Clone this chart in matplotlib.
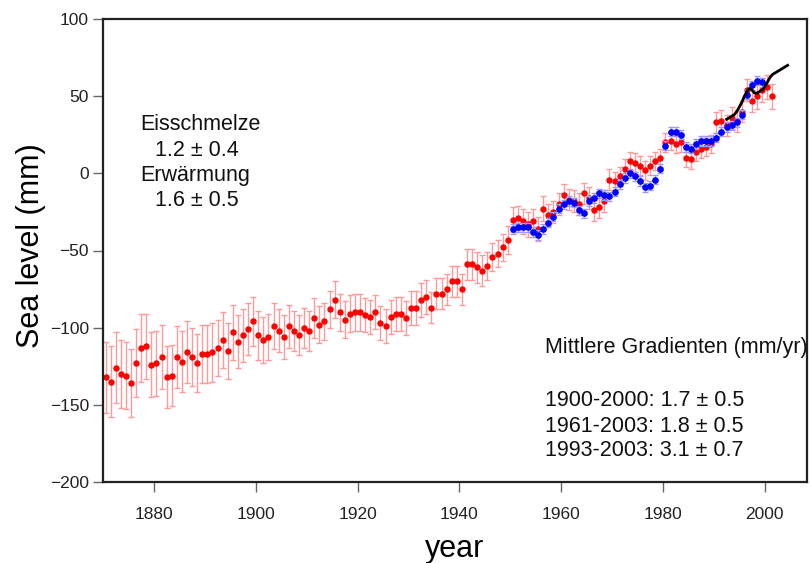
import matplotlib
matplotlib.use("Agg")
import matplotlib.pyplot as plt
import numpy as np

plt.rcParams['font.family'] = ['Liberation Sans', 'DejaVu Sans']

# reconstruction (red), yearly 1870-2001
red_years = np.arange(1870, 2002) + 0.5
red_mm = [-132, -135, -126, -130, -131, -136, -123, -113, -112, -124,
          -123, -119, -132, -131, -119, -122, -116, -119, -123, -117,
          -117, -116, -113, -108, -115, -103, -109, -105, -101, -96,
          -105, -108, -106, -99, -102, -106, -99, -102, -105, -100,
          -102, -94, -98, -96, -88, -82, -90, -95, -91, -90,
          -90, -92, -93, -90, -97, -99, -93, -91, -91, -94,
          -87, -87, -82, -80, -87, -78, -78, -75, -70, -70,
          -75, -59, -59, -61, -63, -60, -54, -52, -48, -43,
          -30, -29, -31, -33, -31, -36, -23, -27, -25, -20,
          -14, -17, -18, -20, -13, -16, -24, -22, -18, -4,
          -5, -2, 3, 8, 7, 5, 2, 5, 8, 10,
          20, 21, 19, 20, 10, 9, 14, 16, 17, 19,
          33, 34, 31, 36, 34, 40, 54, 47, 50, 54,
          56, 50]
red_err = [23, 23, 23, 22, 22, 22, 22, 22, 21, 21,
           21, 21, 20, 20, 20, 20, 20, 19, 19, 19,
           19, 19, 18, 18, 18, 18, 17, 17, 17, 16,
           16, 15, 15, 15, 14, 14, 14, 13, 13, 13,
           13, 13, 12, 12, 12, 12, 12, 12, 12, 12,
           12, 11, 11, 11, 11, 11, 11, 11, 11, 11,
           11, 11, 11, 11, 10, 10, 10, 10, 10, 10,
           10, 10, 10, 10, 10, 9, 9, 9, 9, 9,
           8, 8, 8, 8, 8, 8, 8, 7, 7, 7,
           7, 7, 7, 7, 7, 7, 7, 7, 7, 7,
           6, 6, 6, 6, 6, 6, 6, 6, 6, 6,
           6, 6, 6, 6, 6, 6, 6, 6, 6, 6,
           7, 7, 7, 7, 7, 7, 7, 7, 8, 8,
           8, 8]

# tide gauge (blue), yearly 1950-1999
blue_years = np.arange(1950, 2000) + 0.5
blue_mm = [-36, -35, -35, -35, -38, -40, -36, -32, -28, -23,
           -20, -18, -19, -24, -26, -18, -16, -13, -14, -15,
           -12, -7, -3, 0, -2, -5, -9, -8, -4, 3,
           18, 27, 27, 25, 17, 16, 19, 21, 21, 21,
           23, 27, 30, 31, 33, 38, 51, 57, 60, 59]
blue_err = [3] * len(blue_mm)

# satellite altimetry (black)
sat_years = np.arange(1992.5, 2005, 0.5)
sat_mm = [35, 36, 37, 38, 40, 43, 46, 50, 53, 55, 54, 52, 52,
          53, 54, 56, 59, 62, 64, 65, 66, 67, 68, 69, 70]

W, H = 811, 563
fig = plt.figure(figsize=(W / 100, H / 100), dpi=100)
ax = fig.add_axes([103 / W, 1 - 482 / H, (807 - 103) / W, (482 - 19) / H])

ax.errorbar(red_years, red_mm, yerr=red_err, fmt='o', color='#ff0000',
            ms=3.6, mec='#ff0000', ecolor='#ff9a9a', elinewidth=1.0,
            capsize=2.5, capthick=1.0, zorder=2)
ax.errorbar(blue_years, blue_mm, yerr=blue_err, fmt='o', color='#0000ff',
            ms=3.8, mec='#0000ff', ecolor='#9a9aff', elinewidth=1.0,
            capsize=2.5, capthick=1.0, zorder=3)
ax.plot(sat_years, sat_mm, color='black', lw=2.0, zorder=4)

ax.set_xlim(1870, 2008.3)
ax.set_ylim(-200, 100)
ax.set_xticks([1880, 1900, 1920, 1940, 1960, 1980, 2000])
ax.set_yticks([-200, -150, -100, -50, 0, 50, 100])
ax.tick_params(direction='out', length=7, width=1.0, color='#666666',
               labelsize=12.5, labelcolor='#222222')
ax.tick_params(axis='x', pad=11)
ax.tick_params(axis='y', pad=3)
for s in ax.spines.values():
    s.set_linewidth(1.6)
    s.set_color('#222222')

ax.set_ylabel('Sea level (mm)', fontsize=22)
ax.set_xlabel('year', fontsize=22)
ax.yaxis.set_label_coords(-0.081, 0.51)
ax.xaxis.set_label_coords(0.5, -0.112)

def ftext(x, y, s, **kw):
    fig.text(x / W, 1 - y / H, s, fontsize=15.5, va='center', color='#111111', **kw)

ftext(140, 125, 'Eisschmelze')
ftext(155, 150, '1.2 ± 0.4')
ftext(140, 176, 'Erwärmung')
ftext(155, 201, '1.6 ± 0.5')
ftext(545, 348, 'Mittlere Gradienten (mm/yr)')
ftext(545, 401, '1900-2000: 1.7 ± 0.5')
ftext(545, 426, '1961-2003: 1.8 ± 0.5')
ftext(545, 451, '1993-2003: 3.1 ± 0.7')

fig.savefig('out.png', dpi=100)
